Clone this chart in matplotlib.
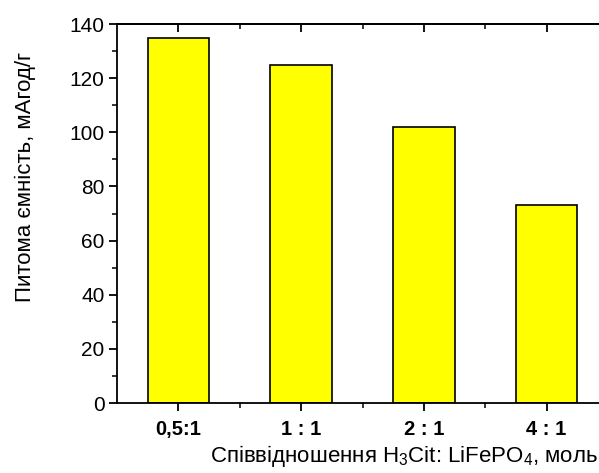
import matplotlib
matplotlib.use("Agg")
import matplotlib.pyplot as plt
from matplotlib.ticker import MultipleLocator, FixedLocator

plt.rcParams.update({
    "font.family": ["Liberation Sans", "DejaVu Sans"],
    "mathtext.fontset": "custom",
    "mathtext.rm": "Liberation Sans",
    "mathtext.it": "Liberation Sans",
    "font.size": 13,
})

categories = ["0,5:1", "1 : 1", "2 : 1", "4 : 1"]
capacity = [135, 125, 102, 73]

W, H = 599, 473
fig = plt.figure(figsize=(W / 100, H / 100), dpi=100)
# axes runs past the right edge, as in the cropped original
ax = fig.add_axes([117 / W, 70 / H, 491 / W, 379 / H])

x = list(range(1, len(categories) + 1))
ax.bar(x, capacity, width=0.5, color="#FFFF00", edgecolor="black", linewidth=1.2)

ax.set_xlim(0.5, 4.5)
ax.set_ylim(0, 140)
ax.set_xticks(x)
ax.set_xticklabels(categories, fontweight="bold", fontsize=14.5)
ax.xaxis.set_minor_locator(FixedLocator([1.5, 2.5, 3.5]))
ax.yaxis.set_major_locator(MultipleLocator(20))
ax.yaxis.set_minor_locator(MultipleLocator(10))

for s in ["left", "bottom", "top"]:
    ax.spines[s].set_linewidth(1.3)
ax.spines["right"].set_visible(False)

ax.tick_params(axis="both", which="major", direction="out", length=6, width=1.3)
ax.tick_params(axis="both", which="minor", direction="out", length=3.5, width=1.1)
ax.tick_params(axis="y", which="major", labelsize=15, pad=3)
ax.tick_params(axis="x", which="major", pad=6)

# top ticks point inward
sec = ax.secondary_xaxis("top")
sec.set_xticks(x)
sec.set_xticklabels([])
sec.xaxis.set_minor_locator(FixedLocator([1.5, 2.5, 3.5]))
sec.tick_params(which="major", direction="in", length=6, width=1.3)
sec.tick_params(which="minor", direction="in", length=3.5, width=1.1)
sec.spines["top"].set_linewidth(1.3)

fig.text(25 / W, 1 - 177 / H, "Питома ємність, мАгод/г", rotation=90,
         ha="center", va="center", fontsize=16)
fig.text(598 / W, 1 - 456 / H, r"Співвідношення H$_3$Cit: LiFePO$_4$, моль",
         ha="right", va="center", fontsize=16)

fig.savefig("out.png", dpi=100)
